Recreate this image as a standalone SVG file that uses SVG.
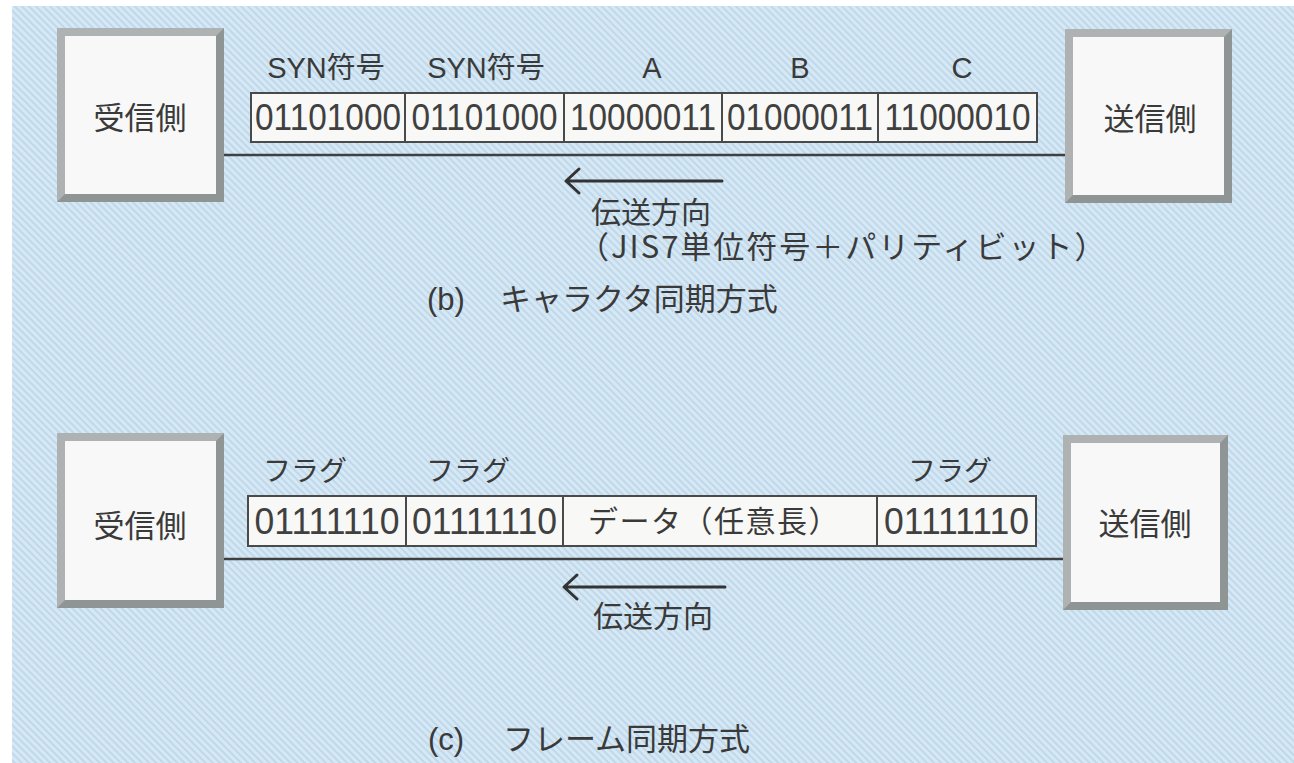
<svg xmlns="http://www.w3.org/2000/svg" width="1294" height="763" viewBox="0 0 1294 763">
<defs>
<pattern id="hatch" patternUnits="userSpaceOnUse" width="5" height="5" patternTransform="rotate(-45)">
<rect width="5" height="5" fill="#d6e8f4"/>
<rect width="2" height="5" fill="#bfd8eb"/>
</pattern>
<style>
.jp{font-family:"Noto Sans CJK JP","Noto Sans CJK SC",sans-serif;fill:#3a3a3a}
.lat{font-family:"Liberation Sans","Noto Sans CJK JP",sans-serif;fill:#3a3a3a}
.bits{font-family:"Liberation Sans",sans-serif;fill:#404040;font-size:36px}
.cell{fill:#f8f8f6;stroke:#4a4a4a;stroke-width:2}
.frame{fill:#aeb2b2}
.shade{fill:#8f9494}
.inner{fill:#f7f8f7}
.wire{stroke:#404040;stroke-width:2.5;fill:none}
.arrow{stroke:#333;stroke-width:3;fill:none;stroke-linecap:round;stroke-linejoin:round}
</style>
</defs>
<rect x="0" y="0" width="1294" height="763" fill="#ffffff"/>
<rect x="12" y="6" width="1282" height="757" fill="url(#hatch)"/>

<g id="connectors">
<line class="wire" x1="224" y1="155" x2="1065" y2="155"/>
<line class="wire" x1="223" y1="559" x2="1063" y2="559"/>
<path class="arrow" d="M722 181 H566 M579 169 L566 181 L579 193"/>
<path class="arrow" d="M725 587 H564 M577 575 L564 587 L577 599"/>
</g>

<g id="b-receiver">
<rect class="frame" x="57" y="28" width="167" height="174"/>
<path class="shade" d="M216 36 L224 28 L224 202 L57 202 L65 194 L216 194 Z"/>
<rect class="inner" x="65" y="36" width="151" height="158"/>
<text class="jp" x="140" y="129" font-size="31" text-anchor="middle">受信側</text>
</g>

<g id="b-sender">
<rect class="frame" x="1065" y="29" width="167" height="174"/>
<path class="shade" d="M1224 37 L1232 29 L1232 203 L1065 203 L1073 195 L1224 195 Z"/>
<rect class="inner" x="1073" y="37" width="151" height="158"/>
<text class="jp" x="1150" y="130" font-size="31" text-anchor="middle">送信側</text>
</g>

<g id="b-frame">
<rect class="cell" x="251" y="93" width="154" height="49"/>
<rect class="cell" x="405" y="93" width="159" height="49"/>
<rect class="cell" x="564" y="93" width="158" height="49"/>
<rect class="cell" x="722" y="93" width="156" height="49"/>
<rect class="cell" x="878" y="93" width="159" height="49"/>
<text class="bits" x="328" y="130" text-anchor="middle" textLength="146" lengthAdjust="spacingAndGlyphs">01101000</text>
<text class="bits" x="484.5" y="130" text-anchor="middle" textLength="146" lengthAdjust="spacingAndGlyphs">01101000</text>
<text class="bits" x="643" y="130" text-anchor="middle" textLength="146" lengthAdjust="spacingAndGlyphs">10000011</text>
<text class="bits" x="800" y="130" text-anchor="middle" textLength="146" lengthAdjust="spacingAndGlyphs">01000011</text>
<text class="bits" x="957.5" y="130" text-anchor="middle" textLength="146" lengthAdjust="spacingAndGlyphs">11000010</text>
<text class="lat" x="326" y="78" font-size="29" text-anchor="middle">SYN符号</text>
<text class="lat" x="486" y="78" font-size="29" text-anchor="middle">SYN符号</text>
<text class="lat" x="652" y="78" font-size="29" text-anchor="middle">A</text>
<text class="lat" x="800" y="78" font-size="29" text-anchor="middle">B</text>
<text class="lat" x="962" y="78" font-size="29" text-anchor="middle">C</text>
</g>

<g id="b-labels">
<text class="jp" x="591" y="223" font-size="30">伝送方向</text>
<text class="jp" x="578" y="258" font-size="31" letter-spacing="2">（JIS7単位符号＋パリティビット）</text>
<text class="jp" y="310" font-size="31"><tspan class="lat" x="427">(b)</tspan><tspan x="500">キャラクタ同期方式</tspan></text>
</g>

<g id="c-receiver">
<rect class="frame" x="57" y="433" width="167" height="175"/>
<path class="shade" d="M216 441 L224 433 L224 608 L57 608 L65 600 L216 600 Z"/>
<rect class="inner" x="65" y="441" width="151" height="159"/>
<text class="jp" x="140" y="537" font-size="31" text-anchor="middle">受信側</text>
</g>

<g id="c-sender">
<rect class="frame" x="1063" y="435" width="165" height="175"/>
<path class="shade" d="M1220 443 L1228 435 L1228 610 L1063 610 L1071 602 L1220 602 Z"/>
<rect class="inner" x="1071" y="443" width="149" height="159"/>
<text class="jp" x="1145" y="535" font-size="31" text-anchor="middle">送信側</text>
</g>

<g id="c-frame">
<rect class="cell" x="248" y="496" width="158" height="50"/>
<rect class="cell" x="406" y="496" width="157" height="50"/>
<rect class="cell" x="563" y="496" width="314" height="50"/>
<rect class="cell" x="877" y="496" width="159" height="50"/>
<text class="bits" x="327" y="534" text-anchor="middle" textLength="145" lengthAdjust="spacingAndGlyphs">01111110</text>
<text class="bits" x="484.5" y="534" text-anchor="middle" textLength="145" lengthAdjust="spacingAndGlyphs">01111110</text>
<text class="jp" x="588" y="532" font-size="30" letter-spacing="1.5">データ（任意長）</text>
<text class="bits" x="956.5" y="534" text-anchor="middle" textLength="145" lengthAdjust="spacingAndGlyphs">01111110</text>
<text class="jp" x="305" y="481" font-size="28" text-anchor="middle">フラグ</text>
<text class="jp" x="468" y="481" font-size="28" text-anchor="middle">フラグ</text>
<text class="jp" x="950" y="481" font-size="28" text-anchor="middle">フラグ</text>
</g>

<g id="c-labels">
<text class="jp" x="593" y="627" font-size="30">伝送方向</text>
<text class="jp" y="750" font-size="31"><tspan class="lat" x="428">(c)</tspan><tspan x="503">フレーム同期方式</tspan></text>
</g>
</svg>
